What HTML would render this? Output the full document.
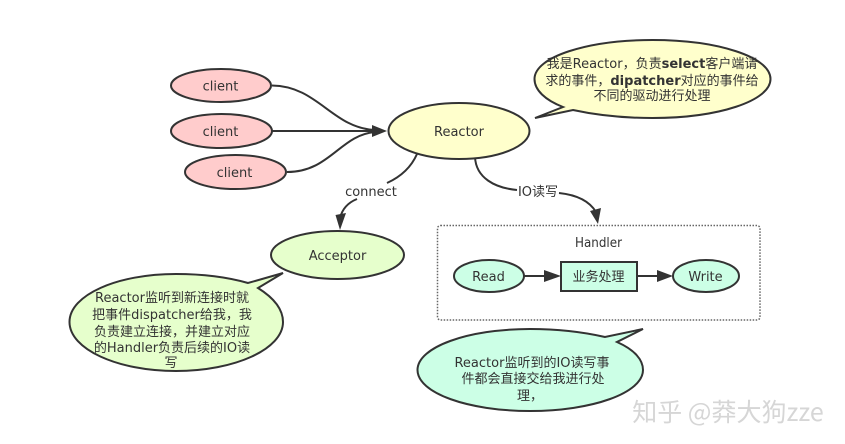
<!DOCTYPE html>
<html>
<head>
<meta charset="utf-8">
<style>
html,body{margin:0;padding:0;background:#fff;width:845px;height:444px;overflow:hidden}
svg{display:block}
text{font-family:"DejaVu Sans","Noto Sans CJK SC",sans-serif;font-size:13px;fill:#333;text-anchor:middle}
.s{stroke:#333;stroke-width:2;}
.l{fill:none;stroke:#333;stroke-width:2}
.h{fill:#333;stroke:none}
</style>
</head>
<body>
<svg width="845" height="444" viewBox="0 0 845 444" xmlns="http://www.w3.org/2000/svg">
<rect width="845" height="444" fill="#fff"/>

<!-- connectors -->
<path class="l" d="M272 85.500C318 86 332 128 375 130"/>
<path class="l" d="M272 131H375"/>
<path class="l" d="M287 172C330 172 340 135 375 132"/>
<path class="h" d="M387 131L372 125V137Z"/>

<path class="l" d="M417 154C410 170 398 178 387 183"/>
<path class="l" d="M357 199C347 203 342 210 340 218"/>
<path class="h" d="M340 230L335.500 215L346 213Z"/>

<path class="l" d="M475 157C476 178 495 188 517 190"/>
<path class="l" d="M559 193C578 195 590 202 596 212"/>
<path class="h" d="M598 224L590 211L601 208Z"/>

<!-- client nodes -->
<ellipse class="s" cx="221" cy="85.500" rx="50" ry="16.500" fill="#ffcccc"/>
<ellipse class="s" cx="221.500" cy="131" rx="50.500" ry="17" fill="#ffcccc"/>
<ellipse class="s" cx="235.500" cy="172" rx="50.500" ry="17" fill="#ffcccc"/>
<text x="220.500" y="90.500">client</text>
<text x="220.500" y="136">client</text>
<text x="234.500" y="177">client</text>

<!-- reactor -->
<ellipse class="s" cx="459" cy="131" rx="70.500" ry="28" fill="#ffffcc"/>
<text x="459" y="136">Reactor</text>

<!-- reactor callout -->
<path class="s" fill="#ffffcc" d="M535 118L563 107C545 100 534.500 90 534.500 79C534.500 57 587 40 652.500 40C718 40 770.500 57 770.500 79C770.500 101 718 118 652.500 118C624 118 596 115 573 110Z"/>
<text x="652" y="68">我是Reactor，负责<tspan font-weight="bold">select</tspan>客户端请</text>
<text x="652" y="85">求的事件，<tspan font-weight="bold">dipatcher</tspan>对应的事件给</text>
<text x="652" y="100">不同的驱动进行处理</text>

<!-- acceptor -->
<ellipse class="s" cx="337.500" cy="255" rx="66.500" ry="24" fill="#e6ffcc"/>
<text x="337.500" y="260">Acceptor</text>

<!-- acceptor callout -->
<path class="s" fill="#e6ffcc" d="M283 273L258 288C274 298 283 309 283 322C283 349 235 371 176 371C117 371 69.500 349 69.500 322C69.500 295 117 274 176 274C203 274 227 277 248 283Z"/>
<text x="172" y="302">Reactor监听到新连接时就</text>
<text x="172" y="319">把事件dispatcher给我，我</text>
<text x="172" y="336">负责建立连接，并建立对应</text>
<text x="172" y="352">的Handler负责后续的IO读</text>
<text x="171" y="367">写</text>

<!-- handler container -->
<rect x="437.500" y="225.500" width="322.500" height="94.500" rx="3" fill="#fff" stroke="#666" stroke-width="1.500" stroke-dasharray="1.500 1.500"/>
<text x="598.500" y="247" textLength="47" lengthAdjust="spacingAndGlyphs">Handler</text>

<path class="l" d="M524 276H546"/>
<path class="h" d="M561 276L544 270V282Z"/>
<path class="l" d="M637 276H659"/>
<path class="h" d="M673 276L657 270V282Z"/>

<ellipse class="s" cx="489" cy="276" rx="35" ry="16" fill="#ccffe6"/>
<text x="488.500" y="281">Read</text>
<rect class="s" x="561" y="262" width="76" height="29" fill="#ccffe6"/>
<text x="598.500" y="281">业务处理</text>
<ellipse class="s" cx="706" cy="276" rx="33" ry="16" fill="#ccffe6"/>
<text x="705.500" y="281">Write</text>

<!-- handler callout -->
<path class="s" fill="#ccffe6" d="M643 329L617 342C635 350 643 360 643 370C643 393 592 411 530 411C468 411 417.500 393 417.500 370C417.500 347 468 329 530 329C558 329 583 332 605 337Z"/>
<text x="532" y="367">Reactor监听到的IO读写事</text>
<text x="533" y="383">件都会直接交给我进行处</text>
<text x="530" y="400">理，</text>

<!-- connector labels -->
<text x="371" y="196">connect</text>
<text x="538" y="196">IO读写</text>

<!-- watermark -->
<text x="728" y="421" style="font-size:25px;fill:#d6d6d6;font-family:'Noto Sans CJK SC','DejaVu Sans',sans-serif">知乎 @莽大狗zze</text>
</svg>
</body>
</html>
